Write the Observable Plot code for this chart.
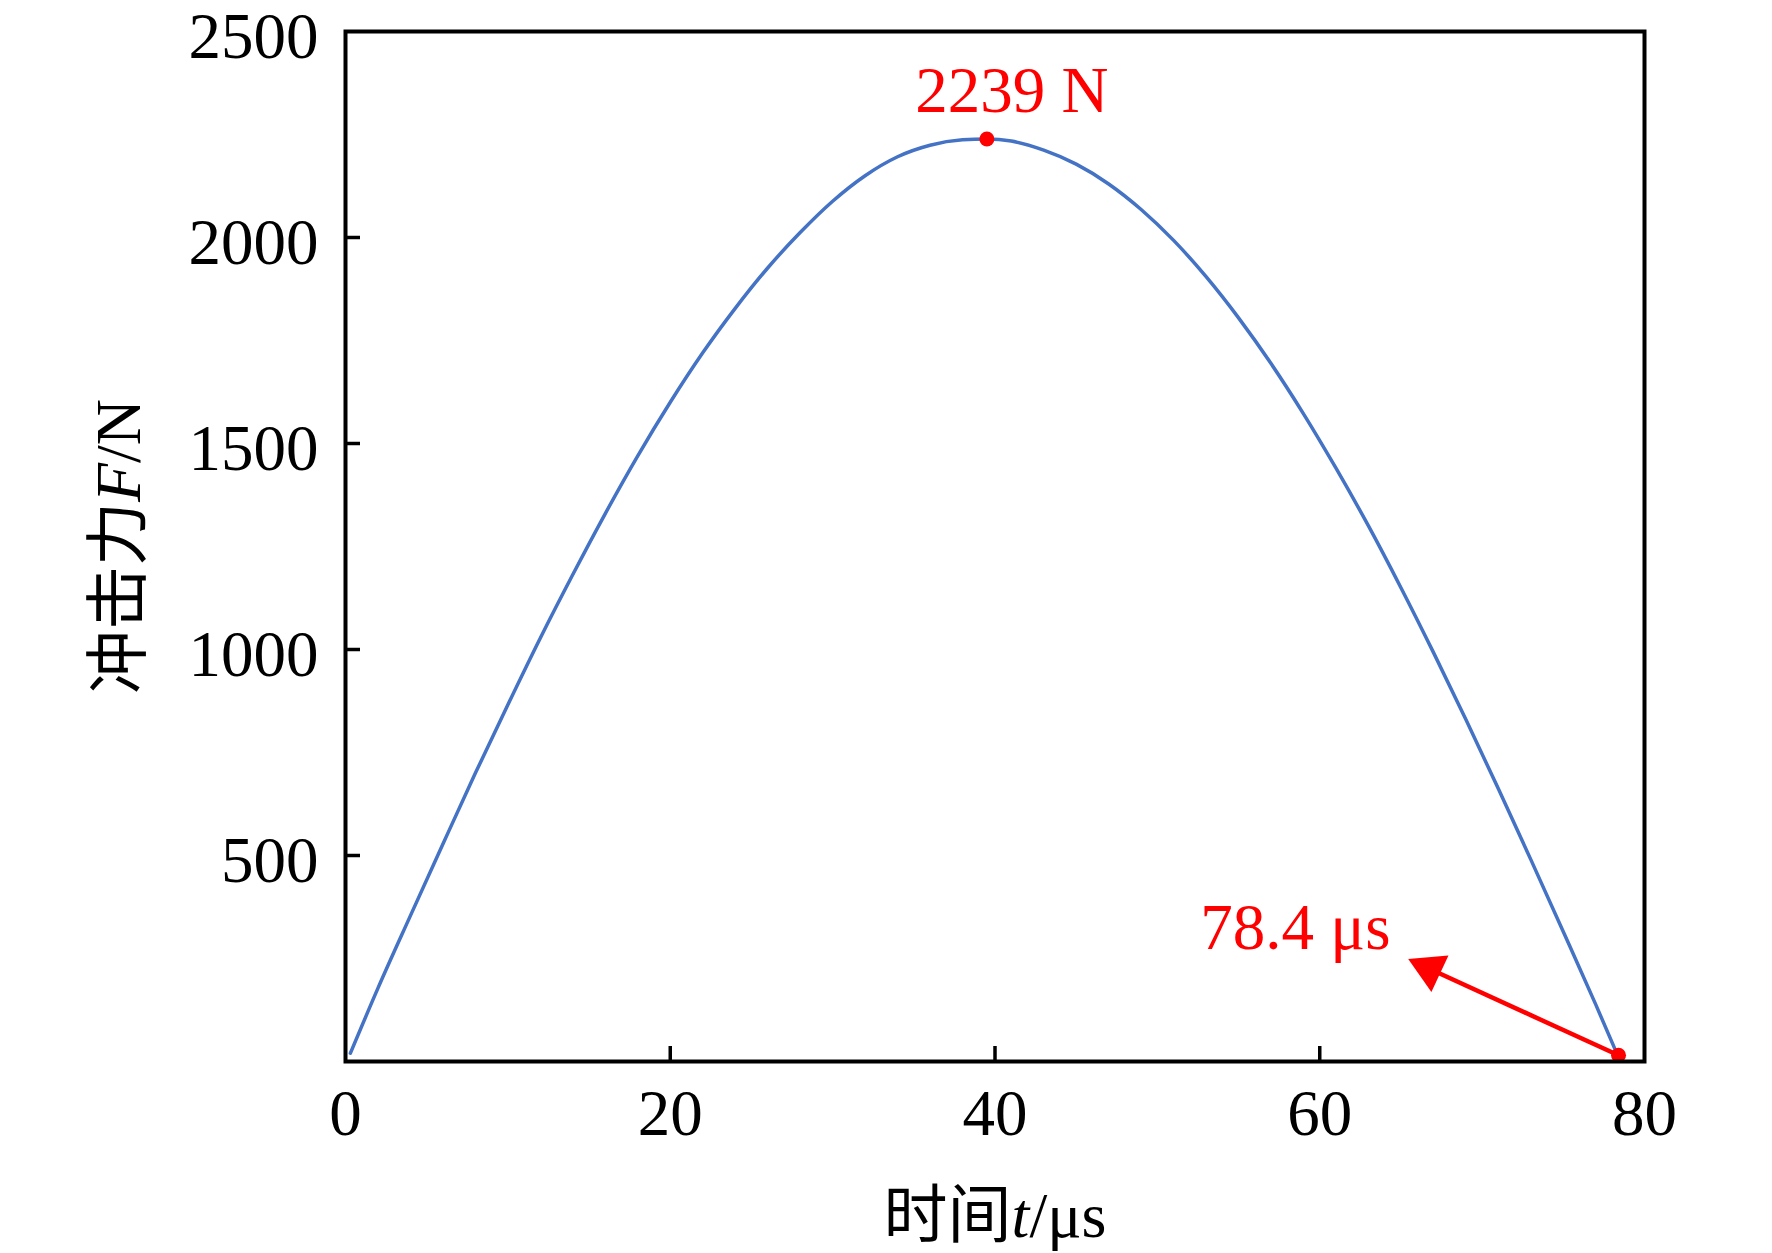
<!DOCTYPE html>
<html>
<head>
<meta charset="utf-8">
<script src="https://cdn.jsdelivr.net/npm/d3@7"></script>
<script src="https://cdn.jsdelivr.net/npm/@observablehq/plot@0.6"></script>
<style>
  html, body { margin: 0; padding: 0; background: #fff; }
</style>
</head>
<body>
<div id="chart"></div>
<script>
// Impact force F (N) vs time t (μs)
const times  = [0.3, 2, 4, 6, 8, 10, 12, 14, 16, 18, 20, 22, 24, 26, 28, 30, 32, 34, 36, 38, 39.5,
                41, 43, 45, 47, 49, 51, 53, 55, 57, 59, 61, 63, 65, 67, 69, 71, 73, 75, 77, 78.4];
const forces = [20, 178, 354, 528, 700, 866, 1028, 1182, 1330, 1470, 1600, 1720, 1828, 1926, 2012, 2088, 2150, 2196, 2224, 2237, 2239,
                2234, 2212, 2178, 2130, 2068, 1993, 1905, 1805, 1694, 1572, 1440, 1300, 1150, 993, 830, 662, 490, 315, 138, 10];

const xTickLabels = [0, 20, 40, 60, 80];
const yTickLabels = [500, 1000, 1500, 2000, 2500];
const xInnerTicks = [20, 40, 60];
const yInnerTicks = [500, 1000, 1500, 2000];

const peakT = 39.5, peakF = 2239, peakLabel = "2239 N";
const endT = 78.4, endF = 15, endLabel = "78.4 μs";
const endLabelT = 58.5, endLabelF = 323;
const arrowHeadT = 66.75, arrowHeadF = 225;

const xTitle = "时间t/μs";
const yTitle = "冲击力F/N";

const data = times.map((t, i) => ({t, F: forces[i]}));
const markers = [{t: peakT, F: peakF}, {t: endT, F: endF}];

const serif = "'Liberation Serif','Times New Roman','Noto Sans CJK SC',serif";

const chart = Plot.plot({
  width: 1772,
  height: 1253,
  marginLeft: 345,
  marginRight: 128,
  marginTop: 31,
  marginBottom: 192,
  x: {domain: [0, 80]},
  y: {domain: [0, 2500]},
  style: {fontFamily: serif, background: "white", color: "black"},
  marks: [
    Plot.axisX(xTickLabels, {tickSize: 0, tickPadding: 27, fontSize: 65, label: null, tickFormat: "d"}),
    Plot.axisY(yTickLabels, {tickSize: 0, tickPadding: 27, fontSize: 65, label: null, dy: 6, tickFormat: "d"}),
    Plot.axisX(xInnerTicks, {tickSize: 15, dy: -15, fill: "none", strokeWidth: 3.5, label: null}),
    Plot.axisY(yInnerTicks, {tickSize: 15, dx: 15, fill: "none", strokeWidth: 3.5, label: null}),
    Plot.line(data, {x: "t", y: "F", stroke: "#4472C4", strokeWidth: 3.5, curve: "monotone-x"}),
    Plot.link([{x1: endT, y1: endF, x2: arrowHeadT, y2: arrowHeadF}], {
      x1: "x1", y1: "y1", x2: "x2", y2: "y2", stroke: "#FF0000", strokeWidth: 4.5
    }),
    Plot.dot([{t: arrowHeadT, F: arrowHeadF}], {x: "t", y: "F", symbol: "triangle", r: 15, fill: "#FF0000", rotate: -65}),
    Plot.dot(markers, {x: "t", y: "F", r: 7.5, fill: "#FF0000"}),
    Plot.text([{t: peakT, F: peakF, label: peakLabel}], {
      x: "t", y: "F", text: "label", fill: "#FF0000", fontSize: 65, dx: 25, dy: -48
    }),
    Plot.text([{t: endLabelT, F: endLabelF, label: endLabel}], {
      x: "t", y: "F", text: "label", fill: "#FF0000", fontSize: 65
    }),
    Plot.text([xTitle], {frameAnchor: "bottom", textAnchor: "middle", dy: 175, fontSize: 64, fill: "black"}),
    Plot.text([yTitle], {frameAnchor: "left", textAnchor: "middle", dx: -226, rotate: -90, fontSize: 64, fill: "black"}),
    Plot.frame({stroke: "black", strokeWidth: 4})
  ]
});

function italicize(svg, str, parts) {
  d3.select(svg).selectAll("text")
    .filter(function() { return this.textContent === str; })
    .each(function() {
      const el = d3.select(this);
      el.text(null);
      parts.forEach(([s, it]) => {
        const ts = el.append("tspan").text(s);
        if (it) ts.attr("font-style", "italic");
      });
    });
}
italicize(chart, xTitle, [["时间", false], ["t", true], ["/μs", false]]);
italicize(chart, yTitle, [["冲击力", false], ["F", true], ["/N", false]]);

document.getElementById("chart").appendChild(chart);
</script>
</body>
</html>
